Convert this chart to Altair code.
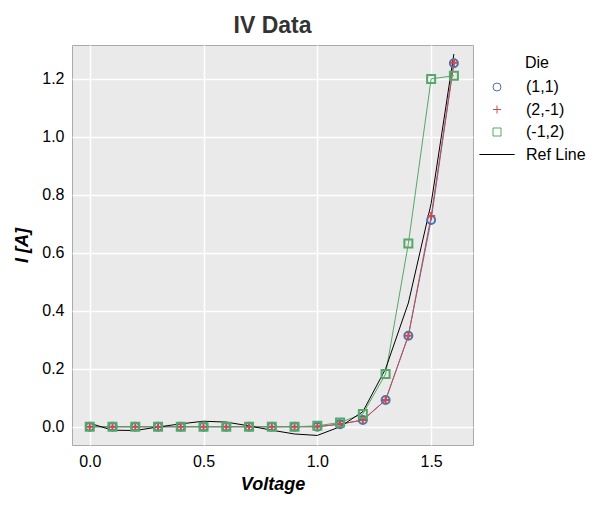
import altair as alt
import pandas as pd

voltage = [0.0, 0.1, 0.2, 0.3, 0.4, 0.5, 0.6, 0.7, 0.8, 0.9, 1.0, 1.1, 1.2, 1.3, 1.4, 1.5, 1.6]
die_1_1 = [0, 0, 0, 0, 0, 0, 0, 0, 0, 0, 0.0, 0.009, 0.023, 0.092, 0.314, 0.713, 1.254]
die_2_m1 = [0, 0, 0, 0, 0, 0, 0, 0, 0, 0, 0.0, 0.009, 0.023, 0.092, 0.314, 0.727, 1.256]
die_m1_2 = [0, 0, 0, 0, 0, 0, 0, 0, 0, 0, 0.003, 0.015, 0.044, 0.182, 0.632, 1.200, 1.211]
ref_line = [0.012, -0.012, -0.013, -0.001, 0.010, 0.019, 0.016, 0.003, -0.012, -0.025, -0.030, 0.000, 0.052, 0.200, 0.427, 0.770, 1.286]

series_names = ["(1,1)", "(2,-1)", "(-1,2)", "Ref Line"]
series_values = [die_1_1, die_2_m1, die_m1_2, ref_line]
colors = ["#4C72B0", "#C44E52", "#55A868", "#000000"]
shapes = ["circle", "M-1,0H1M0,-1V1", "square", "M-4.4,0H4.4"]
sizes = [64, 64, 81, 64]
widths = [1, 1, 1, 1.4]

rows = []
for order, (name, vals) in enumerate(zip(series_names, series_values)):
    for v, i in zip(voltage, vals):
        rows.append({"Voltage": v, "I": i, "Die": name, "order": order})
df = pd.DataFrame(rows)

legend = alt.Legend(
    title="Die", orient="none", legendX=417, legendY=10,
    titleFont="Liberation Sans", titleFontSize=16, titleFontWeight="normal",
    titleColor="#000000", titleAnchor="middle", titlePadding=8,
    labelFont="Liberation Sans", labelFontSize=16, labelColor="#000000",
    labelOffset=21, rowPadding=6.5, padding=0, symbolStrokeWidth=1.6,
)

x = alt.X("Voltage:Q", title="Voltage",
          scale=alt.Scale(domain=[-0.078, 1.684], nice=False, zero=False),
          axis=alt.Axis(values=[0.0, 0.5, 1.0, 1.5], format=".1f"))
y = alt.Y("I:Q", title="I [A]",
          scale=alt.Scale(domain=[-0.063, 1.317], nice=False, zero=False),
          axis=alt.Axis(values=[0.0, 0.2, 0.4, 0.6, 0.8, 1.0, 1.2], format=".1f"))
color = alt.Color("Die:N", scale=alt.Scale(domain=series_names, range=colors), legend=legend)

lines = alt.Chart(df).mark_line().encode(
    x=x, y=y, color=color, order="order:Q",
    detail="Die:N",
    strokeWidth=alt.StrokeWidth("Die:N", scale=alt.Scale(domain=series_names, range=widths), legend=None),
)

points = alt.Chart(df).transform_filter(alt.datum.Die != "Ref Line").mark_point(filled=False, strokeWidth=2, opacity=1).encode(
    x=x, y=y, color=color,
    shape=alt.Shape("Die:N", scale=alt.Scale(domain=series_names, range=shapes), legend=legend),
    size=alt.Size("Die:N", scale=alt.Scale(domain=series_names, range=sizes), legend=legend),
)

chart = alt.layer(lines, points).properties(
    width=401, height=400,
    background="#FFFFFF",
    title=alt.Title("IV Data", font="Liberation Sans", fontSize=23, fontWeight="bold",
                    color="#333333", anchor="middle", offset=7),
    autosize=alt.AutoSizeParams(type="none"),
    padding={"left": 64, "top": 37, "right": 128, "bottom": 55},
).configure_view(
    fill="#EAEAEA", stroke="#AAAAAA", strokeWidth=1,
).configure_axis(
    grid=True, gridColor="#FFFFFF", gridWidth=1.5, domain=False, ticks=False,
    labelFont="Liberation Sans", labelFontSize=16, labelColor="#000000", labelPadding=8,
    titleFont="Liberation Sans", titleFontSize=18, titleFontWeight="bold", titleColor="#000000",
    titleFontStyle="italic",
).configure_axisX(titlePadding=6).configure_axisY(titlePadding=10)

chart.save("out.html", embed_options={"renderer": "svg", "actions": False})
